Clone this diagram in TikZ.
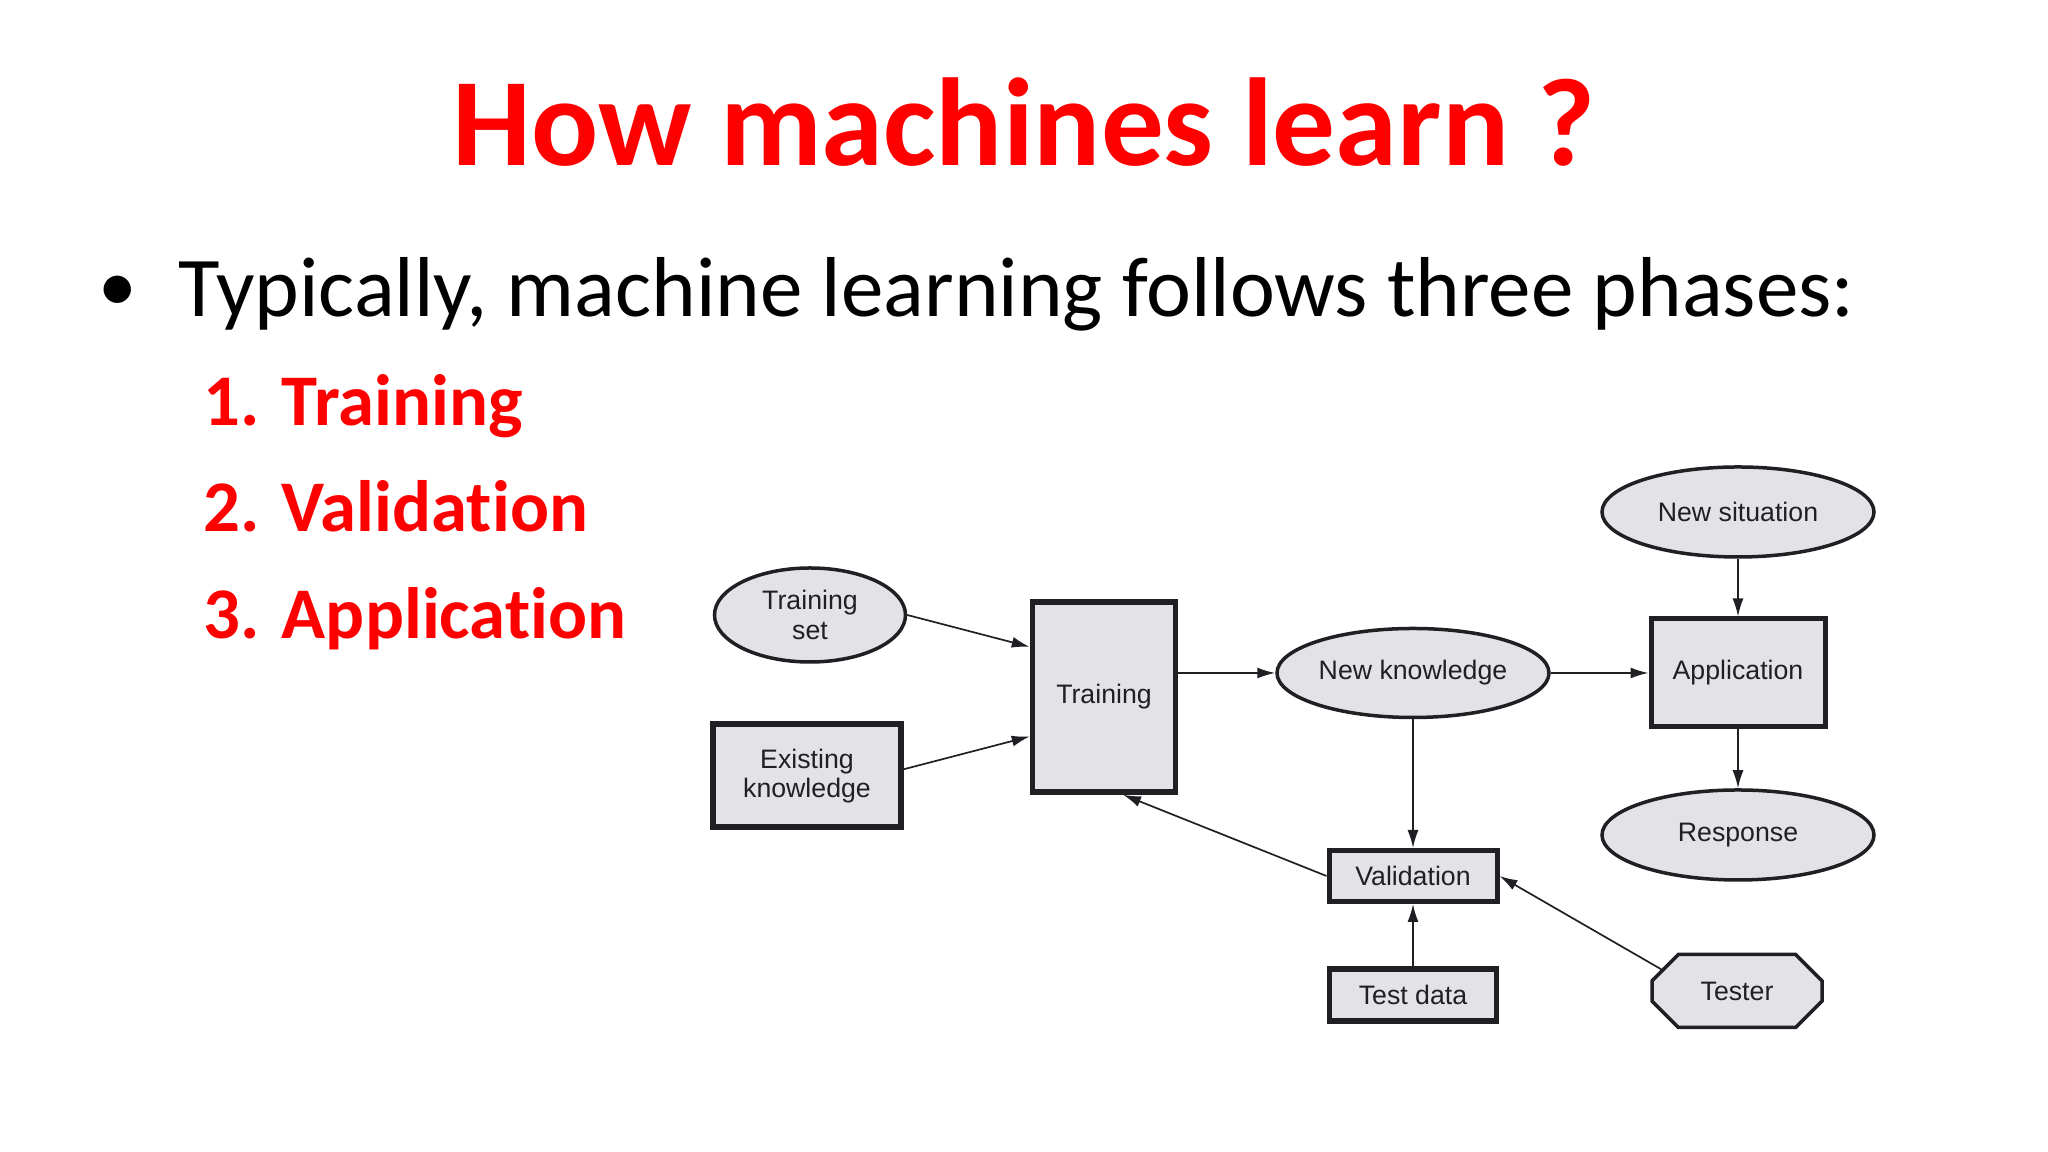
\documentclass[tikz,border=0pt]{standalone}
\usepackage{fontspec}
\setmainfont[Ligatures=NoCommon]{Carlito}
\newfontfamily\figfont{Liberation Sans}
\usetikzlibrary{arrows.meta,shapes.geometric,shapes.misc}
\definecolor{slidered}{RGB}{255,0,0}
\definecolor{boxgrey}{RGB}{227,227,230}
\definecolor{inkgrey}{RGB}{32,32,36}
\tikzset{
	headline/.style={font=\fontsize{35.6}{40}\selectfont\bfseries, text=slidered, inner sep=0},
	bodyline/.style={font=\fontsize{24.2}{26}\selectfont, text=black, inner sep=0, anchor=base west},
	phaseline/.style={font=\fontsize{20.7}{22}\selectfont\bfseries, text=slidered, inner sep=0, anchor=base west},
	figbase/.style={draw=inkgrey, fill=boxgrey, text=inkgrey, inner sep=0, align=center, font=\figfont\fontsize{7.6}{8.3}\selectfont},
	oval/.style={figbase, ellipse, line width=0.35mm},
	square/.style={figbase, rectangle},
	octa/.style={figbase, chamfered rectangle, chamfered rectangle xsep=0.3cm, chamfered rectangle ysep=0.17cm, line width=0.35mm},
	link/.style={draw=inkgrey, line width=0.17mm, -{Latex[length=1.8mm,width=1.1mm]}}
}

\begin{document}
\begin{tikzpicture}
	\useasboundingbox (0, 0) rectangle (20.48, 11.52);
	\fill[white] (0, 0) rectangle (20.48, 11.52);

	%%%%% TEXT %%%%%
	\node[headline] (title) at (10.24, 10.30) {How machines learn ?};
	\node[bodyline, font=\fontsize{22}{24}\selectfont] (dot) at (0.98, 8.40) {•};
	\node[bodyline] (intro) at (1.78, 8.35) {Typically, machine learning follows three phases:};
	\node[phaseline] (one) at (2.03, 7.26) {1. Training};
	\node[phaseline] (two) at (2.03, 6.20) {2. Validation};
	\node[phaseline] (three) at (2.03, 5.13) {3. Application};

	%%%%% NODES %%%%%
	\node[oval, minimum width=1.91cm, minimum height=0.94cm] (trainset) at (8.10, 5.37) {Training\\set};
	\node[square, line width=0.6mm, minimum width=1.88cm, minimum height=1.03cm] (existing) at (8.07, 3.76) {Existing\\knowledge};
	\node[square, line width=0.55mm, minimum width=1.43cm, minimum height=1.90cm] (training) at (11.04, 4.55) {Training};
	\node[oval, minimum width=2.72cm, minimum height=0.89cm] (newknow) at (14.13, 4.79) {New knowledge};
	\node[square, line width=0.5mm, minimum width=1.74cm, minimum height=1.08cm] (application) at (17.38, 4.79) {Application};
	\node[oval, minimum width=2.72cm, minimum height=0.90cm] (newsit) at (17.38, 6.40) {New situation};
	\node[oval, minimum width=2.72cm, minimum height=0.90cm] (response) at (17.38, 3.17) {Response};
	\node[square, line width=0.5mm, minimum width=1.68cm, minimum height=0.51cm] (validation) at (14.13, 2.76) {Validation};
	\node[square, line width=0.55mm, minimum width=1.67cm, minimum height=0.52cm] (testdata) at (14.13, 1.57) {Test data};
	\node[octa, minimum width=1.70cm, minimum height=0.73cm] (tester) at (17.37, 1.61) {Tester};

	%%%%% LINKS %%%%%
	\draw[link] (trainset.east) -- (training.146);
	\draw[link] (existing.4) -- (training.208);
	\draw[link] (training.east |- newknow.west) -- (newknow.west);
	\draw[link] (newknow.east) -- (application.west);
	\draw[link] (newsit.south) -- (application.north);
	\draw[link] (application.south) -- (response.north);
	\draw[link] (newknow.south) -- (validation.north);
	\draw[link] (testdata.north) -- (validation.south);
	\draw[link] (validation.west) -- (training.281);
	\draw[link] (tester.164) -- (validation.east);
\end{tikzpicture}
\end{document}
